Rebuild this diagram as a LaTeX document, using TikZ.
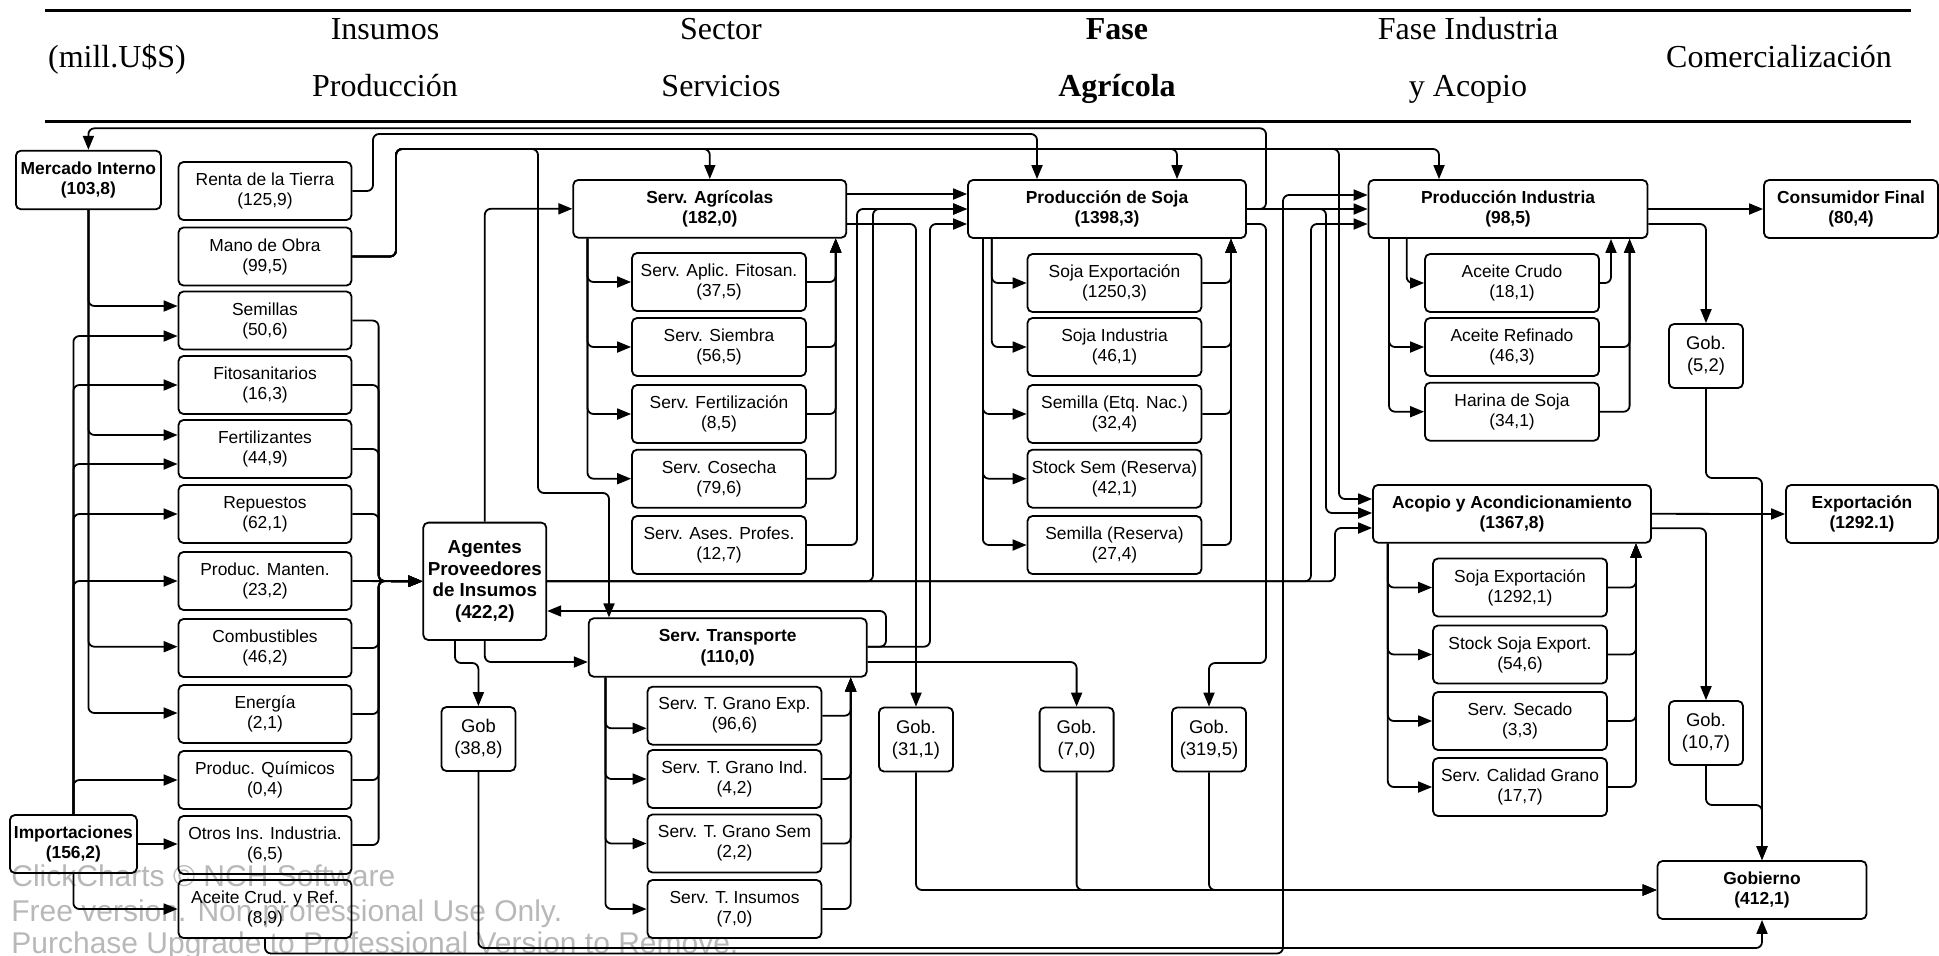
\documentclass[tikz,border=0pt]{standalone}
\usepackage{fontspec}
\setmainfont{Liberation Serif}
\setsansfont{Liberation Sans}
\usetikzlibrary{arrows.meta}

\tikzset{
  box/.style={draw, rounded corners=2.5pt, line width=0.9pt, align=center, inner sep=1pt,
    font=\sffamily\fontsize{8.7}{10}\selectfont},
  bigbox/.style={box, font=\sffamily\bfseries\fontsize{8.7}{10.3}\selectfont},
  inbox/.style={box, minimum width=86.5pt, minimum height=29pt},
  subbox/.style={box, minimum width=87pt, minimum height=29pt},
  gobbox/.style={box, minimum width=37pt, minimum height=32pt,
    font=\sffamily\fontsize{9.2}{10.8}\selectfont},
  flow/.style={-{Triangle[length=7pt,width=5.5pt]}, line width=0.9pt, rounded corners=3pt},
  hdtext/.style={anchor=base, inner sep=0pt, font=\fontsize{16}{19}\selectfont},
  hdbold/.style={hdtext, font=\bfseries\fontsize{16}{19}\selectfont},
  wmark/.style={anchor=base west, inner sep=0pt, text=black, text opacity=0.28,
    font=\sffamily\fontsize{15}{17}\selectfont}
}

\begin{document}
\begin{tikzpicture}[x=0.5pt, y=-0.5pt]
    \useasboundingbox (0,0) rectangle (1939,955);

    % Header
    \draw[line width=1.5pt] (45,10) -- (1911,10);
    \draw[line width=1.5pt] (45,121) -- (1911,121);
    \node[hdtext] (hmill) at (117,67) {(mill.U\$S)};
    \node[hdtext] (hins) at (385,39) {Insumos};
    \node[hdtext] (hprod) at (385,96) {Producción};
    \node[hdtext] (hsec) at (721,39) {Sector};
    \node[hdtext] (hserv) at (721,96) {Servicios};
    \node[hdbold] (hfase) at (1117,39) {Fase};
    \node[hdbold] (hagr) at (1117,96) {Agrícola};
    \node[hdtext] (hind) at (1468,39) {Fase Industria};
    \node[hdtext] (hacop) at (1468,96) {y Acopio};
    \node[hdtext] (hcom) at (1779,67) {Comercialización};

    % Mercado interno and imports
    \node[bigbox, minimum width=72.5pt, minimum height=29.3pt] (merc) at (88.4,180) {Mercado Interno\\(103,8)};
    \node[bigbox, minimum width=63.5pt, minimum height=29pt] (imp) at (73.4,844) {Importaciones\\(156,2)};

    % Inputs
    \node[inbox] (renta) at (265,191) {Renta de la Tierra\\(125,9)};
    \node[inbox] (mano) at (265,256.5) {Mano de Obra\\(99,5)};
    \node[inbox] (sem) at (265,320.5) {Semillas\\(50,6)};
    \node[inbox] (fito) at (265,385) {Fitosanitarios\\(16,3)};
    \node[inbox] (fert) at (265,449) {Fertilizantes\\(44,9)};
    \node[inbox] (rep) at (265,514) {Repuestos\\(62,1)};
    \node[inbox] (mant) at (265,581) {Produc. Manten.\\(23,2)};
    \node[inbox] (comb) at (265,648) {Combustibles\\(46,2)};
    \node[inbox] (ener) at (265,714) {Energía\\(2,1)};
    \node[inbox] (quim) at (265,780) {Produc. Químicos\\(0,4)};
    \node[inbox] (otros) at (265,845) {Otros Ins. Industria.\\(6,5)};
    \node[inbox] (aceite) at (265,909) {Aceite Crud. y Ref.\\(8,9)};

    % Agentes
    \node[box, minimum width=61.5pt, minimum height=58.7pt, font=\sffamily\bfseries\fontsize{9.4}{10.8}\selectfont] (agen) at (484.8,581.3) {Agentes\\Proveedores\\de Insumos\\(422,2)};
    \node[gobbox] (gobA) at (478.4,739) {Gob\\(38,8)};

    % Servicios agricolas
    \node[bigbox, minimum width=136.5pt, minimum height=28.9pt] (sagr) at (709.8,208.8) {Serv. Agrícolas\\(182,0)};
    \node[subbox] (sapl) at (719,282) {Serv. Aplic. Fitosan.\\(37,5)};
    \node[subbox] (ssie) at (719,347) {Serv. Siembra\\(56,5)};
    \node[subbox] (sfer) at (719,414) {Serv. Fertilización\\(8,5)};
    \node[subbox] (scos) at (719,478.7) {Serv. Cosecha\\(79,6)};
    \node[subbox] (sase) at (719,545) {Serv. Ases. Profes.\\(12,7)};

    % Transporte
    \node[bigbox, minimum width=139pt, minimum height=29.2pt] (stra) at (727.7,647.5) {Serv. Transporte\\(110,0)};
    \node[subbox] (texp) at (734.5,715.7) {Serv. T. Grano Exp.\\(96,6)};
    \node[subbox] (tind) at (734.5,779) {Serv. T. Grano Ind.\\(4,2)};
    \node[subbox] (tsem) at (734.5,843.5) {Serv. T. Grano Sem\\(2,2)};
    \node[subbox] (tins) at (734.5,909) {Serv. T. Insumos\\(7,0)};

    \node[gobbox] (gobB) at (916,739.5) {Gob.\\(31,1)};
    \node[gobbox] (gobC) at (1076.6,739.5) {Gob.\\(7,0)};
    \node[gobbox] (gobD) at (1209,739.5) {Gob.\\(319,5)};

    % Produccion de soja
    \node[bigbox, minimum width=139pt, minimum height=29pt] (psoj) at (1107,209) {Producción de Soja\\(1398,3)};
    \node[subbox] (pexp) at (1114.5,283) {Soja Exportación\\(1250,3)};
    \node[subbox] (sind) at (1114.5,347) {Soja Industria\\(46,1)};
    \node[subbox] (setq) at (1114.5,414) {Semilla (Etq. Nac.)\\(32,4)};
    \node[subbox] (sstk) at (1114.5,478.7) {Stock Sem (Reserva)\\(42,1)};
    \node[subbox] (sres) at (1114.5,545) {Semilla (Reserva)\\(27,4)};

    % Industria
    \node[bigbox, minimum width=139.5pt, minimum height=29pt] (pindu) at (1508,209) {Producción Industria\\(98,5)};
    \node[subbox] (acru) at (1512,283) {Aceite Crudo\\(18,1)};
    \node[subbox] (aref) at (1512,347) {Aceite Refinado\\(46,3)};
    \node[subbox] (hari) at (1512,411.7) {Harina de Soja\\(34,1)};
    \node[bigbox, minimum width=87pt, minimum height=29pt] (cons) at (1851,209) {Consumidor Final\\(80,4)};
    \node[gobbox] (gobE) at (1706,356) {Gob.\\(5,2)};

    % Acopio
    \node[bigbox, minimum width=139pt, minimum height=28.9pt] (acop) at (1512,513.8) {Acopio y Acondicionamiento\\(1367,8)};
    \node[subbox] (aexp) at (1520,587.5) {Soja Exportación\\(1292,1)};
    \node[subbox] (astk) at (1520,654.5) {Stock Soja Export.\\(54,6)};
    \node[subbox] (asec) at (1520,721) {Serv. Secado\\(3,3)};
    \node[subbox] (acal) at (1520,787) {Serv. Calidad Grano\\(17,7)};
    \node[bigbox, minimum width=76pt, minimum height=29pt] (expo) at (1862,514) {Exportación\\(1292.1)};
    \node[gobbox] (gobF) at (1706,733) {Gob.\\(10,7)};
    \node[bigbox, minimum width=104.5pt, minimum height=29pt] (gobi) at (1762,890) {Gobierno\\(412,1)};

    % Mercado interno and imports to inputs
    \draw[flow] (merc.south) |- (sem.west |- 0,306);
    \draw[flow] (merc.south) |- (fert.west |- 0,435);
    \draw[flow] (merc.south) |- (comb.west |- 0,646.7);
    \draw[flow] (merc.south) |- (ener.west |- 0,713);
    \draw[flow] (imp.north) |- (sem.west |- 0,336);
    \draw[flow] (imp.north) |- (fito.west);
    \draw[flow] (imp.north) |- (fert.west |- 0,464);
    \draw[flow] (imp.north) |- (rep.west);
    \draw[flow] (imp.north) |- (mant.west);
    \draw[flow] (imp.north) |- (quim.west);
    \draw[flow] (imp.east) -- (imp.east -| otros.west);
    \draw[flow] (imp.south) |- (aceite.west);

    % Inputs to agentes
    \draw[flow] (sem.east) -| (378.6,581) -- (agen.west);
    \draw[flow] (fito.east) -| (378.6,581) -- (agen.west);
    \draw[flow] (fert.east) -| (378.6,581) -- (agen.west);
    \draw[flow] (rep.east) -| (378.6,581) -- (agen.west);
    \draw[flow] (mant.east) -- (agen.west);
    \draw[flow] (comb.east) -| (378.6,581) -- (agen.west);
    \draw[flow] (ener.east) -| (378.6,581) -- (agen.west);
    \draw[flow] (quim.east) -| (378.6,581) -- (agen.west);
    \draw[flow] (otros.east) -| (378.6,581) -- (agen.west);

    % Renta and mano de obra
    \draw[flow] (renta.east) -| (373,134) -| (psoj.north -| 1037,0);
    \draw[flow] (mano.east) -| (396,149) -| (sagr.north);
    \draw[flow] (mano.east) -| (396,149) -| (psoj.north -| 1177,0);
    \draw[flow] (mano.east) -| (396,149) -| (pindu.north -| 1439,0);
    \draw[flow] (mano.east) -| (396,149) -| (1339,499) -- (acop.west |- 0,499);
    \draw[flow] (mano.east) -| (396,149) -| (538,493) -| (stra.north -| 609,0);

    % Agentes outputs
    \draw[flow] (agen.north) |- (sagr.west);
    \draw[flow] (agen.south) |- (stra.west |- 0,662);
    \draw[flow] (agen.south -| 455,0) -- (455,663) -| (gobA.north);
    \draw[flow] (agen.east) -| (873,209) -- (psoj.west);
    \draw[flow] (agen.east) -| (1311,224) -- (pindu.west |- 0,224);
    \draw[flow] (agen.east) -| (1335,528) -- (acop.west |- 0,528);

    % Servicios agricolas
    \draw[flow] (sagr.east |- 0,194) -- (psoj.west |- 0,194);
    \draw[flow] (sagr.east |- 0,224) -| (gobB.north);
    \draw[flow] (sagr.south -| 587.5,0) |- (sapl.west);
    \draw[flow] (sagr.south -| 587.5,0) |- (ssie.west);
    \draw[flow] (sagr.south -| 587.5,0) |- (sfer.west);
    \draw[flow] (sagr.south -| 587.5,0) |- (scos.west);
    \draw[flow] (sapl.east) -| (sagr.south -| 835.7,0);
    \draw[flow] (ssie.east) -| (sagr.south -| 835.7,0);
    \draw[flow] (sfer.east) -| (sagr.south -| 835.7,0);
    \draw[flow] (scos.east) -| (sagr.south -| 835.7,0);
    \draw[flow] (sase.east) -| (857,209) -- (psoj.west);

    % Transporte
    \draw[flow] (stra.east |- 0,646.7) -| (886,611) -- (agen.east |- 0,611);
    \draw[flow] (stra.east |- 0,646.7) -| (930,224) -- (psoj.west |- 0,224);
    \draw[flow] (stra.east |- 0,662) -| (gobC.north);
    \draw[flow] (stra.south -| 605.4,0) |- (texp.west |- 0,728.3);
    \draw[flow] (stra.south -| 605.4,0) |- (tind.west);
    \draw[flow] (stra.south -| 605.4,0) |- (tsem.west);
    \draw[flow] (stra.south -| 605.4,0) |- (tins.west);
    \draw[flow] (texp.east) -| (stra.south -| 850.7,0);
    \draw[flow] (tind.east) -| (stra.south -| 850.7,0);
    \draw[flow] (tsem.east) -| (stra.south -| 850.7,0);
    \draw[flow] (tins.east) -| (stra.south -| 850.7,0);

    % Produccion de soja
    \draw[flow] (psoj.east) -- (pindu.west);
    \draw[flow] (psoj.east) -| (1266,128.3) -| (merc.north);
    \draw[flow] (psoj.east) -| (1326,513) -- (acop.west |- 0,513);
    \draw[flow] (psoj.east |- 0,224) -| (1266,663) -| (gobD.north);
    \draw[flow] (psoj.south -| 991.8,0) |- (pexp.west);
    \draw[flow] (psoj.south -| 991.8,0) |- (sind.west);
    \draw[flow] (psoj.south -| 982.9,0) |- (setq.west);
    \draw[flow] (psoj.south -| 982.9,0) |- (sstk.west);
    \draw[flow] (psoj.south -| 982.9,0) |- (sres.west);
    \draw[flow] (pexp.east) -| (psoj.south -| 1231,0);
    \draw[flow] (sind.east) -| (psoj.south -| 1231,0);
    \draw[flow] (setq.east) -| (psoj.south -| 1231,0);
    \draw[flow] (sres.east) -| (psoj.south -| 1231,0);

    % Industria
    \draw[flow] (aceite.south) |- (1283,953.5) |- (pindu.west |- 0,195);
    \draw[flow] (pindu.east) -- (cons.west);
    \draw[flow] (pindu.east |- 0,224) -| (gobE.north);
    \draw[flow] (pindu.south -| 1406.7,0) |- (acru.west);
    \draw[flow] (pindu.south -| 1389,0) |- (aref.west);
    \draw[flow] (pindu.south -| 1389,0) |- (hari.west);
    \draw[flow] (acru.east) -| (pindu.south -| 1611,0);
    \draw[flow] (aref.east) -| (pindu.south -| 1629.6,0);
    \draw[flow] (hari.east) -| (pindu.south -| 1629.6,0);

    % Acopio
    \draw[flow] (acop.east) -- (expo.west);
    \draw[flow] (acop.east |- 0,528.3) -| (gobF.north);
    \draw[flow] (acop.south -| 1387.8,0) |- (aexp.west);
    \draw[flow] (acop.south -| 1387.8,0) |- (astk.west);
    \draw[flow] (acop.south -| 1387.8,0) |- (asec.west);
    \draw[flow] (acop.south -| 1387.8,0) |- (acal.west);
    \draw[flow] (aexp.east) -| (acop.south -| 1636,0);
    \draw[flow] (astk.east) -| (acop.south -| 1636,0);
    \draw[flow] (asec.east) -| (acop.south -| 1636,0);
    \draw[flow] (acal.east) -| (acop.south -| 1636,0);

    % Gobierno
    \draw[flow] (gobE.south) |- (1762,478) -- (gobi.north);
    \draw[flow] (gobF.south) |- (1762,805) -- (gobi.north);
    \draw[flow] (gobB.south) |- (gobi.west);
    \draw[flow] (gobC.south) |- (gobi.west);
    \draw[flow] (gobD.south) |- (gobi.west);
    \draw[flow] (gobA.south) |- (1762,948) -- (gobi.south);

    % Watermark
    \node[wmark] (wm1) at (11,886) {ClickCharts © NCH Software};
    \node[wmark] (wm2) at (11,921) {Free version. Non-professional Use Only.};
    \node[wmark] (wm3) at (11,953) {Purchase Upgrade to Professional Version to Remove.};
\end{tikzpicture}
\end{document}
